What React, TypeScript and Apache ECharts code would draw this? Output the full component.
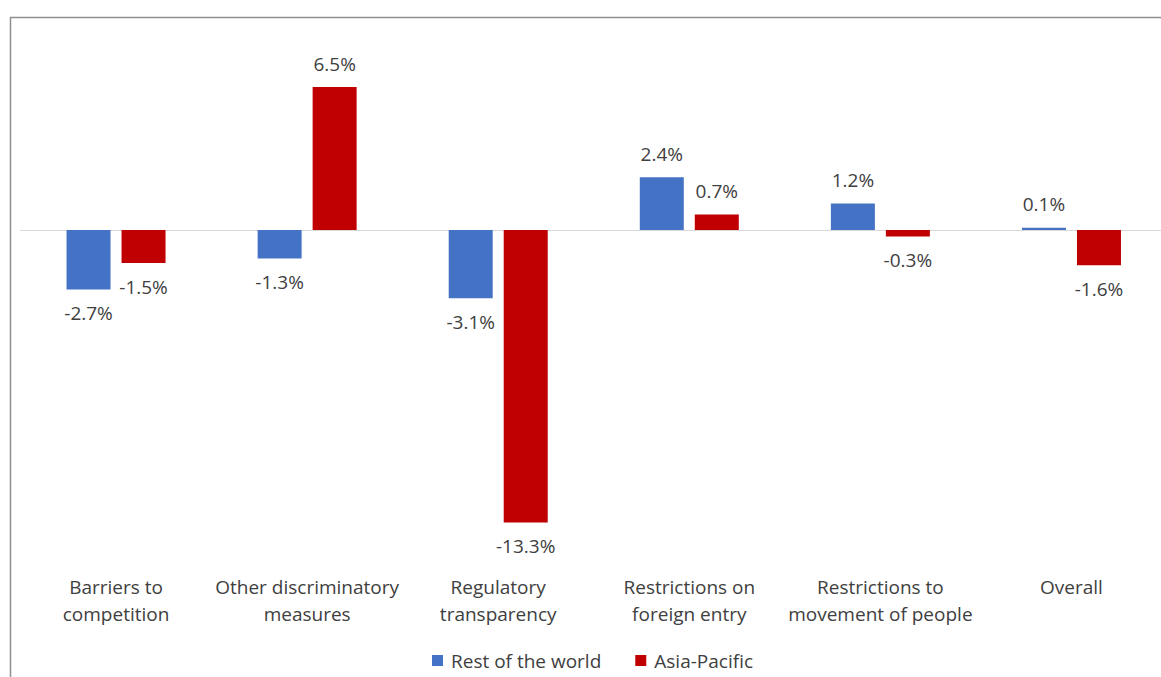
import React, { useEffect, useRef } from "react";
import * as echarts from "echarts";

const categories = [
  "Barriers to\ncompetition",
  "Other discriminatory\nmeasures",
  "Regulatory\ntransparency",
  "Restrictions on\nforeign entry",
  "Restrictions to\nmovement of people",
  "Overall",
];
const restOfWorld = [-2.7, -1.3, -3.1, 2.4, 1.2, 0.1];
const asiaPacific = [-1.5, 6.5, -13.3, 0.7, -0.3, -1.6];
const seriesNames = ["Rest of the world", "Asia-Pacific"];
const colors = ["#4472C4", "#C00000"];

const FONT = "Open Sans";
const TEXT = "#404040";
const FS = 19;

function toData(values: number[]) {
  return values.map((v) => ({
    value: v,
    label: { position: v >= 0 ? "top" : "bottom" },
  }));
}

export default function App() {
  const ref = useRef<HTMLDivElement>(null);
  useEffect(() => {
    if (!ref.current) return;
    const chart = echarts.init(ref.current, null, { renderer: "svg" });
    const labelCfg = {
      show: true,
      distance: 14,
      fontFamily: FONT,
      fontSize: FS,
      color: TEXT,
      formatter: (p: any) => `${Number(p.value).toFixed(1)}%`,
    };
    chart.setOption({
      animation: false,
      backgroundColor: "#ffffff",
      textStyle: { fontFamily: FONT },
      graphic: [
        {
          type: "rect",
          shape: { x: 10.5, y: 17.5, width: 1300, height: 800 },
          style: { fill: "none", stroke: "#8f8f8f", lineWidth: 1.5 },
          z: -10,
          silent: true,
        },
      ],
      legend: {
        data: seriesNames,
        top: 651,
        left: 432,
        padding: 0,
        icon: "rect",
        itemWidth: 11,
        itemHeight: 11,
        itemGap: 34,
        textStyle: { fontFamily: FONT, fontSize: FS, color: TEXT, padding: [0, 0, 0, 3] },
      },
      grid: { left: 20.5, right: 0, top: 54, height: 484 },
      xAxis: [
        {
          type: "category",
          data: categories,
          position: "bottom",
          axisLine: { show: false, onZero: false },
          axisTick: { show: false },
          axisLabel: {
            interval: 0,
            margin: 35,
            fontFamily: FONT,
            fontSize: FS,
            lineHeight: 27,
            color: TEXT,
          },
        },
        {
          type: "category",
          data: categories,
          position: "bottom",
          axisLine: { show: true, onZero: true, lineStyle: { color: "#d9d9d9", width: 1 } },
          axisTick: { show: false },
          axisLabel: { show: false },
        },
      ],
      yAxis: {
        type: "value",
        min: -14,
        max: 8,
        show: false,
        splitLine: { show: false },
      },
      series: [
        {
          name: seriesNames[0],
          type: "bar",
          data: toData(restOfWorld),
          barWidth: 44,
          barGap: "25%",
          itemStyle: { color: colors[0] },
          label: labelCfg,
        },
        {
          name: seriesNames[1],
          type: "bar",
          data: toData(asiaPacific),
          barWidth: 44,
          barGap: "25%",
          itemStyle: { color: colors[1] },
          label: labelCfg,
        },
      ],
    });
    return () => chart.dispose();
  }, []);
  return (
    <div style={{ position: "fixed", left: 0, top: 0, width: 1161, height: 677, overflow: "hidden" }}>
      <div ref={ref} style={{ width: 1167, height: 677 }} />
    </div>
  );
}
